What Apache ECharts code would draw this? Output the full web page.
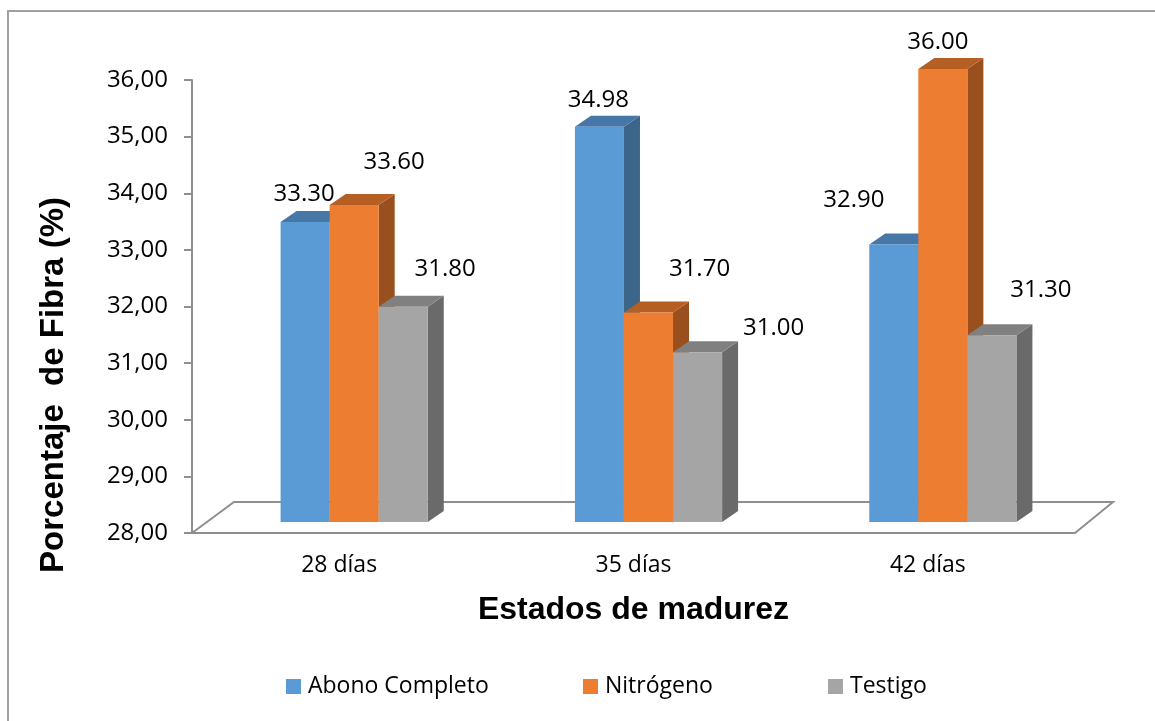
<!DOCTYPE html>
<html>
<head>
<meta charset="utf-8">
<script src="https://cdn.jsdelivr.net/npm/echarts@6/dist/echarts.min.js"></script>
<style>
  html, body { margin: 0; padding: 0; background: #fff; }
  #chart { width: 1155px; height: 721px; }
</style>
</head>
<body>
<div id="chart"></div>
<script>
// data
const categories = ["28 días", "35 días", "42 días"];
const seriesNames = ["Abono Completo", "Nitrógeno", "Testigo"];
const abonoCompleto = [33.3, 34.98, 32.9];
const nitrogeno = [33.6, 31.7, 36.0];
const testigo = [31.8, 31.0, 31.3];
const yTicks = { min: 28, max: 36, interval: 1 };

// face colours: front, top, side
const faceColors = [
  ["#5b9bd5", "#4677a6", "#3c6689"],
  ["#ed7d31", "#b65f25", "#9a4f1e"],
  ["#a5a5a5", "#808080", "#6a6a6a"],
];
// label nudges from front-top centre of each bar (Excel placed them loosely)
const labelNudge = [
  [[-1, -28], [-1, -27], [-40, -44]],
  [[40, -43], [51, -43], [-5, -27]],
  [[42, -38], [76, -24], [49, -45]],
];
const legendLeft = [286, 583, 828];

const FRONT = [15, -11];   // bar front plane offset from axis plane
const DEPTH = [16, -11];   // bar depth
const FLOOR_L = [42, -31];
const FLOOR_R = [38, -31];
const AXIS_GRAY = "#8f8f8f";
const labelFont = "'Open Sans', sans-serif";

const chart = echarts.init(document.getElementById("chart"));

function barRenderer(k) {
  return function (params, api) {
    const cat = api.value(0);
    const val = api.value(1);
    const top = api.coord([cat, val]);
    const base = api.coord([cat, yTicks.min]);
    const bw = api.size([1, 0])[0] / 6;
    const x0 = top[0] + FRONT[0] + (k - 1.5) * bw;
    const x1 = x0 + bw;
    const yT = top[1] + FRONT[1];
    const yB = base[1] + FRONT[1];
    const [cf, ct, cs] = faceColors[k];
    const nudge = labelNudge[k][params.dataIndex];
    return {
      type: "group",
      children: [
        {
          type: "polygon",
          shape: { points: [[x1, yT], [x1 + DEPTH[0], yT + DEPTH[1]], [x1 + DEPTH[0], yB + DEPTH[1]], [x1, yB]] },
          style: { fill: cs },
        },
        {
          type: "polygon",
          shape: { points: [[x0, yT], [x0 + DEPTH[0], yT + DEPTH[1]], [x1 + DEPTH[0], yT + DEPTH[1]], [x1, yT]] },
          style: { fill: ct },
        },
        {
          type: "rect",
          shape: { x: x0, y: yT, width: bw, height: yB - yT },
          style: { fill: cf },
        },
        {
          type: "text",
          x: (x0 + x1) / 2 + nudge[0],
          y: yT + nudge[1],
          z2: 10,
          style: {
            text: val.toFixed(2),
            align: "center",
            verticalAlign: "middle",
            fill: "#000",
            font: "24px " + labelFont,
          },
        },
      ],
    };
  };
}

function floorRenderer(params) {
  const cs = params.coordSys;
  const yb = cs.y + cs.height;
  return {
    type: "polyline",
    shape: {
      points: [
        [cs.x, yb],
        [cs.x + FLOOR_L[0], yb + FLOOR_L[1]],
        [cs.x + cs.width + FLOOR_R[0], yb + FLOOR_R[1]],
        [cs.x + cs.width, yb],
      ],
    },
    style: { stroke: AXIS_GRAY, lineWidth: 2, fill: "none" },
  };
}

const seriesValues = [abonoCompleto, nitrogeno, testigo];

const options = {
  animation: false,
  grid: { left: 192, right: 80, top: 80, bottom: 188 },
  legend: seriesNames.map((name, k) => ({
    data: [name],
    left: legendLeft[k],
    top: 675,
    padding: 0,
    icon: "rect",
    itemWidth: 15,
    itemHeight: 15,
    textStyle: { fontSize: 23, color: "#000", fontFamily: labelFont, padding: [0, 0, 0, 2] },
  })),
  xAxis: {
    type: "category",
    data: categories,
    name: "Estados de madurez",
    nameLocation: "middle",
    nameGap: 61,
    nameTextStyle: { fontSize: 32, fontWeight: "bold", color: "#000", fontFamily: "'Liberation Sans', Arial, sans-serif" },
    axisLine: { lineStyle: { color: AXIS_GRAY, width: 2 } },
    axisTick: { show: false },
    axisLabel: { fontSize: 23, color: "#000", margin: 21, fontFamily: labelFont },
  },
  yAxis: {
    type: "value",
    min: yTicks.min,
    max: yTicks.max,
    interval: yTicks.interval,
    axisLine: { show: true, lineStyle: { color: AXIS_GRAY, width: 2 } },
    axisTick: { show: true, length: 8, lineStyle: { color: AXIS_GRAY, width: 2 } },
    splitLine: { show: false },
    axisLabel: {
      fontSize: 24,
      color: "#000",
      margin: 24,
      fontFamily: labelFont,
      formatter: (v) => v.toFixed(2).replace(".", ","),
    },
  },
  graphic: [
    {
      type: "polyline",
      shape: { points: [[8, 721], [8, 11], [1155, 11]] },
      style: { stroke: "#a0a0a0", lineWidth: 2, fill: "none" },
    },
    {
      type: "text",
      x: 54,
      y: 385,
      rotation: Math.PI / 2,
      style: {
        text: "Porcentaje  de Fibra (%)",
        align: "center",
        verticalAlign: "middle",
        fill: "#000",
        font: "bold 33px 'Liberation Sans', Arial, sans-serif",
      },
    },
  ],
  series: [
    {
      type: "custom",
      name: "floor",
      data: [[0, yTicks.min]],
      renderItem: floorRenderer,
      silent: true,
      z: 1,
    },
  ].concat(
    seriesValues.map((vals, k) => ({
      type: "custom",
      name: seriesNames[k],
      data: vals.map((v, i) => [i, v]),
      encode: { x: 0, y: 1 },
      renderItem: barRenderer(k),
      itemStyle: { color: faceColors[k][0] },
      z: 2 + k,
    }))
  ),
};

chart.setOption(options);
</script>
</body>
</html>
